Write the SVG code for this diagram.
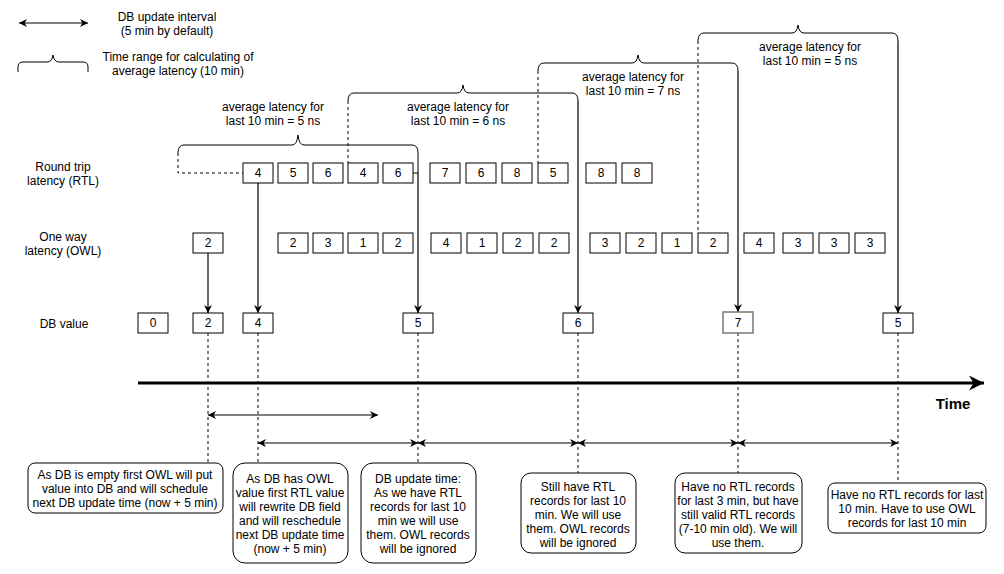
<svg xmlns="http://www.w3.org/2000/svg" width="1004" height="574" viewBox="0 0 1004 574">
<defs>
<marker id="ar" viewBox="0 0 10 10" refX="10" refY="5" markerWidth="8" markerHeight="8" markerUnits="userSpaceOnUse" orient="auto-start-reverse">
<path d="M0,0 L10,5 L0,10 L3,5 z" fill="#000"/>
</marker>
<marker id="arBig" viewBox="0 0 10 10" refX="10" refY="5" markerWidth="15" markerHeight="15" markerUnits="userSpaceOnUse" orient="auto">
<path d="M0,0 L10,5 L0,10 L3,5 z" fill="#000"/>
</marker>
</defs>
<style>
text{font-family:"Liberation Sans",Arial,sans-serif;font-size:12px;fill:#000;text-anchor:middle}
.box{fill:#fff;stroke:#000;stroke-width:1}
.note{fill:#fff;stroke:#000;stroke-width:1}
.ln{fill:none;stroke:#000;stroke-width:1}
.dash{fill:none;stroke:#000;stroke-width:1;stroke-dasharray:3 3}
.arr{fill:none;stroke:#000;stroke-width:1.2;marker-end:url(#ar)}
.dbl{fill:none;stroke:#000;stroke-width:1;marker-start:url(#ar);marker-end:url(#ar)}
.bold{font-weight:bold;font-size:15px}
</style>
<rect width="1004" height="574" fill="#fff"/>

<g id="legend">
<path class="dbl" d="M19,23 H88"/>
<text x="167" y="21">DB update interval</text>
<text x="167" y="35">(5 min by default)</text>
<path class="ln" d="M18,72 V67 Q18,62 23,62 H47 Q52,62 53,55 Q54,62 59,62 H83 Q88,62 88,67 V72"/>
<text x="178" y="61">Time range for calculating of</text>
<text x="178" y="75">average latency (10 min)</text>
</g>

<g id="row-labels">
<text x="63" y="171">Round trip</text>
<text x="63" y="185">latency (RTL)</text>
<text x="63" y="241">One way</text>
<text x="63" y="255">latency (OWL)</text>
<text x="64" y="328">DB value</text>
</g>

<g id="braces">
<path class="dash" d="M178,153 V173 H243"/>
<path class="ln" d="M178,153 Q178,145 184,145 H292 Q297,145 298,135 Q299,145 304,145 H412 Q418,145 418,153 V173"/>
<text x="273" y="111">average latency for</text>
<text x="273" y="125">last 10 min = 5 ns</text>

<path class="dash" d="M348,101 V163"/>
<path class="ln" d="M348,101 Q348,93 354,93 H457 Q462,93 463,85 Q464,93 469,93 H572 Q578,93 578,101"/>
<text x="458" y="111">average latency for</text>
<text x="458" y="125">last 10 min = 6 ns</text>

<path class="dash" d="M538,71 V163"/>
<path class="ln" d="M538,71 Q538,63 544,63 H632 Q637,63 638,55 Q639,63 644,63 H732 Q738,63 738,71"/>
<text x="633" y="81">average latency for</text>
<text x="633" y="95">last 10 min = 7 ns</text>

<path class="dash" d="M698,41 V233"/>
<path class="ln" d="M698,41 Q698,33 704,33 H792 Q797,33 798,25 Q799,33 804,33 H892 Q898,33 898,41"/>
<text x="810" y="51">average latency for</text>
<text x="810" y="65">last 10 min = 5 ns</text>
</g>

<g id="connectors">
<path class="arr" d="M208,253 V313"/>
<path class="arr" d="M258,183 V313"/>
<path class="arr" d="M413,173 H418 V313"/>
<path class="arr" d="M578,101 V313"/>
<path class="arr" d="M738,71 V312"/>
<path class="arr" d="M898,41 V313"/>
<path class="dash" d="M208,333 V463"/>
<path class="dash" d="M258,333 V463"/>
<path class="dash" d="M418,333 V463"/>
<path class="dash" d="M578,333 V473"/>
<path class="dash" d="M738,333 V473"/>
<path class="dash" d="M898,333 V483"/>
<path class="dbl" d="M208,415 H378"/>
<path class="dbl" d="M258,443 H418"/>
<path class="dbl" d="M418,443 H578"/>
<path class="dbl" d="M578,443 H738"/>
<path class="dbl" d="M738,443 H898"/>
</g>

<g id="rtl">
<rect class="box" x="243" y="163" width="30" height="20"/><text x="258" y="177">4</text>
<rect class="box" x="278" y="163" width="30" height="20"/><text x="293" y="177">5</text>
<rect class="box" x="313" y="163" width="30" height="20"/><text x="328" y="177">6</text>
<rect class="box" x="348" y="163" width="30" height="20"/><text x="363" y="177">4</text>
<rect class="box" x="383" y="163" width="30" height="20"/><text x="398" y="177">6</text>
<rect class="box" x="430" y="163" width="30" height="20"/><text x="445" y="177">7</text>
<rect class="box" x="466" y="163" width="30" height="20"/><text x="481" y="177">6</text>
<rect class="box" x="502" y="163" width="30" height="20"/><text x="517" y="177">8</text>
<rect class="box" x="538" y="163" width="30" height="20"/><text x="553" y="177">5</text>
<rect class="box" x="586" y="163" width="30" height="20"/><text x="601" y="177">8</text>
<rect class="box" x="622" y="163" width="30" height="20"/><text x="637" y="177">8</text>
</g>

<g id="owl">
<rect class="box" x="193" y="233" width="30" height="20"/><text x="208" y="247">2</text>
<rect class="box" x="278" y="233" width="30" height="20"/><text x="293" y="247">2</text>
<rect class="box" x="313" y="233" width="30" height="20"/><text x="328" y="247">3</text>
<rect class="box" x="348" y="233" width="30" height="20"/><text x="363" y="247">1</text>
<rect class="box" x="383" y="233" width="30" height="20"/><text x="398" y="247">2</text>
<rect class="box" x="431" y="233" width="30" height="20"/><text x="446" y="247">4</text>
<rect class="box" x="467" y="233" width="30" height="20"/><text x="482" y="247">1</text>
<rect class="box" x="503" y="233" width="30" height="20"/><text x="518" y="247">2</text>
<rect class="box" x="539" y="233" width="30" height="20"/><text x="554" y="247">2</text>
<rect class="box" x="590" y="233" width="30" height="20"/><text x="605" y="247">3</text>
<rect class="box" x="626" y="233" width="30" height="20"/><text x="641" y="247">2</text>
<rect class="box" x="662" y="233" width="30" height="20"/><text x="677" y="247">1</text>
<rect class="box" x="698" y="233" width="30" height="20"/><text x="713" y="247">2</text>
<rect class="box" x="744" y="233" width="30" height="20"/><text x="759" y="247">4</text>
<rect class="box" x="783" y="233" width="30" height="20"/><text x="798" y="247">3</text>
<rect class="box" x="819" y="233" width="30" height="20"/><text x="834" y="247">3</text>
<rect class="box" x="855" y="233" width="30" height="20"/><text x="870" y="247">3</text>
</g>

<g id="db">
<rect class="box" x="138" y="313" width="30" height="20"/><text x="153" y="327">0</text>
<rect class="box" x="193" y="313" width="30" height="20"/><text x="208" y="327">2</text>
<rect class="box" x="243" y="313" width="30" height="20"/><text x="258" y="327">4</text>
<rect class="box" x="403" y="313" width="30" height="20"/><text x="418" y="327">5</text>
<rect class="box" x="563" y="313" width="30" height="20"/><text x="578" y="327">6</text>
<rect x="723" y="312" width="30" height="21" fill="#fff" stroke="#777" stroke-width="1.5"/><text x="738" y="327">7</text>
<rect class="box" x="883" y="313" width="30" height="20"/><text x="898" y="327">5</text>
</g>

<g id="timeline">
<path d="M138,383 H984" fill="none" stroke="#000" stroke-width="3" marker-end="url(#arBig)"/>
<text class="bold" x="953" y="409">Time</text>
</g>

<g id="note1">
<rect class="note" x="28" y="463" width="195" height="50" rx="7"/>
<text x="125" y="479">As DB is empty first OWL will put</text>
<text x="125" y="493">value into DB and will schedule</text>
<text x="125" y="507">next DB update time (now + 5 min)</text>
</g>
<g id="note2">
<rect class="note" x="233" y="463" width="115" height="100" rx="12"/>
<text x="290" y="483">As DB has OWL</text>
<text x="290" y="497">value first RTL value</text>
<text x="290" y="511">will rewrite DB field</text>
<text x="290" y="525">and will reschedule</text>
<text x="290" y="539">next DB update time</text>
<text x="290" y="553">(now + 5 min)</text>
</g>
<g id="note3">
<rect class="note" x="361" y="463" width="115" height="100" rx="12"/>
<text x="418" y="483">DB update time:</text>
<text x="418" y="497">As we have RTL</text>
<text x="418" y="511">records for last 10</text>
<text x="418" y="525">min we will use</text>
<text x="418" y="539">them. OWL records</text>
<text x="418" y="553">will be ignored</text>
</g>
<g id="note4">
<rect class="note" x="521" y="473" width="115" height="80" rx="10"/>
<text x="578" y="491">Still have RTL</text>
<text x="578" y="505">records for last 10</text>
<text x="578" y="519">min. We will use</text>
<text x="578" y="533">them. OWL records</text>
<text x="578" y="547">will be ignored</text>
</g>
<g id="note5">
<rect class="note" x="675" y="473" width="127" height="80" rx="10"/>
<text x="738" y="491">Have no RTL records</text>
<text x="738" y="505">for last 3 min, but have</text>
<text x="738" y="519">still valid RTL records</text>
<text x="738" y="533">(7-10 min old). We will</text>
<text x="738" y="547">use them.</text>
</g>
<g id="note6">
<rect class="note" x="828" y="483" width="158" height="50" rx="7"/>
<text x="907" y="499">Have no RTL records for last</text>
<text x="907" y="513">10 min. Have to use OWL</text>
<text x="907" y="527">records for last 10 min</text>
</g>
</svg>
